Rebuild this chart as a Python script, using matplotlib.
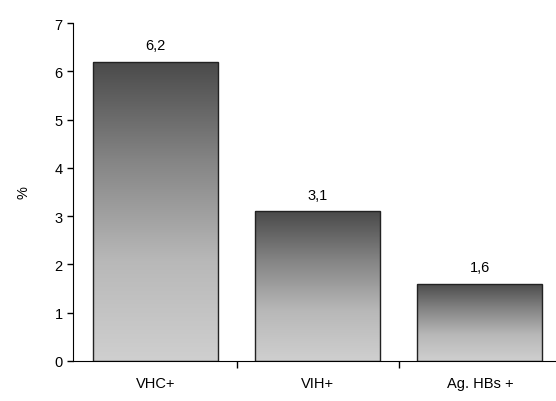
import numpy as np
import matplotlib
matplotlib.use("Agg")
import matplotlib.pyplot as plt
from matplotlib.colors import LinearSegmentedColormap

plt.rcParams["font.family"] = ["Liberation Sans", "DejaVu Sans"]

categories = ["VHC+", "VIH+", "Ag. HBs +"]
values = [6.2, 3.1, 1.6]
value_labels = ["6,2", "3,1", "1,6"]

fig = plt.figure(figsize=(5.56, 4.02), dpi=100)
ax = fig.add_axes([73 / 556, 1 - 362 / 402, 1 - 73 / 556, (362 - 24) / 402])

x = np.arange(len(categories))
width = 0.77
bars = ax.bar(x, values, width=width, color="none", edgecolor="#222222", linewidth=1.0, zorder=3)

# degradé gris: sombre en haut, clair en bas
cmap = LinearSegmentedColormap.from_list("g", ["#cfcfcf", "#b8b8b8", "#858585", "#4a4a4a"])
grad = np.linspace(0, 1, 256).reshape(-1, 1)
for b in bars:
    x0, y0 = b.get_x(), b.get_y()
    w, h = b.get_width(), b.get_height()
    im = ax.imshow(grad, cmap=cmap, aspect="auto", origin="lower",
                   extent=[x0, x0 + w, y0, y0 + h], zorder=2)
    im.set_clip_path(b)

for xi, v, lab in zip(x, values, value_labels):
    ax.text(xi, v + 0.2, lab, ha="center", va="bottom", fontsize=10.5)

ax.set_xlim(-0.51, 2.47)
ax.set_ylim(0, 7)
ax.set_yticks(range(0, 8))
ax.set_xticks(x)
ax.set_xticklabels(categories, fontsize=10.5)
ax.set_xticks([0.5, 1.5], minor=True)
ax.tick_params(axis="x", which="major", length=0, pad=11)
ax.tick_params(axis="x", which="minor", length=5, direction="out", width=1)
ax.tick_params(axis="y", length=4, direction="out", width=1, labelsize=10.5)
ax.spines["top"].set_visible(False)
ax.spines["right"].set_visible(False)
ax.set_ylabel("%", fontsize=10.5, labelpad=17)

fig.savefig("out.png", dpi=100)
